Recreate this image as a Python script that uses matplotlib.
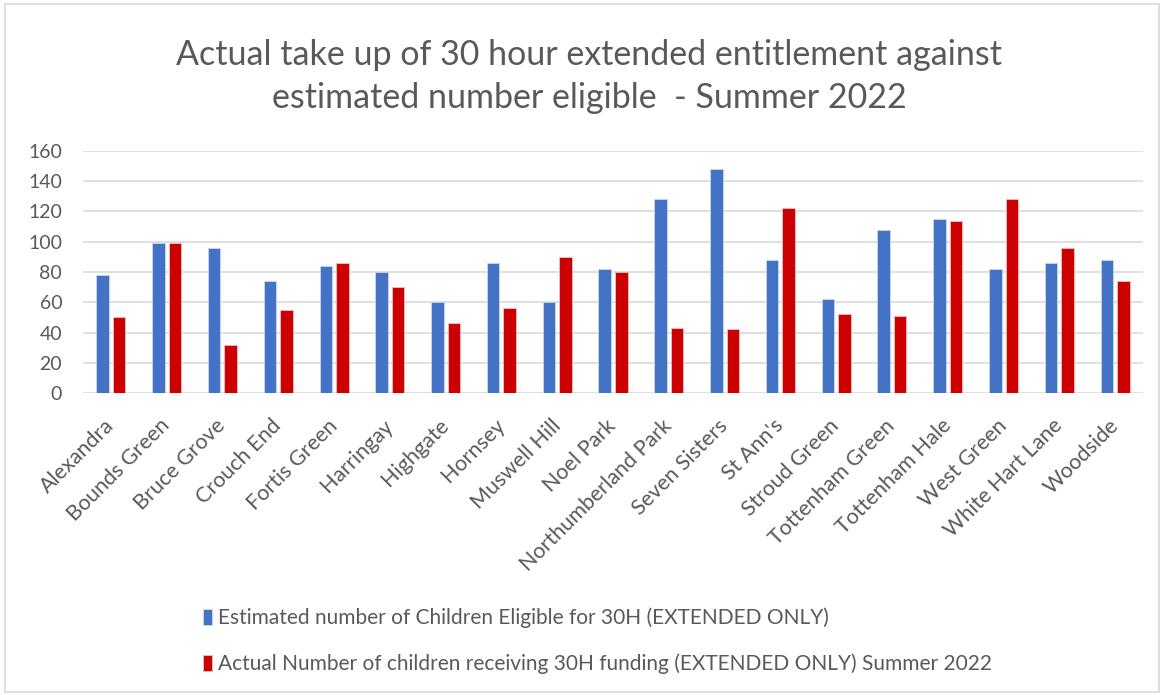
import numpy as np
import matplotlib.pyplot as plt
import matplotlib.transforms as mtransforms

wards = ["Alexandra", "Bounds Green", "Bruce Grove", "Crouch End", "Fortis Green",
         "Harringay", "Highgate", "Hornsey", "Muswell Hill", "Noel Park",
         "Northumberland Park", "Seven Sisters", "St Ann's", "Stroud Green",
         "Tottenham Green", "Tottenham Hale", "West Green", "White Hart Lane", "Woodside"]
eligible = [78, 99, 96, 74, 84, 80, 60, 86, 60, 82, 128, 148, 88, 62, 108, 115, 82, 86, 88]
actual = [50, 99, 32, 55, 86, 70, 46, 56, 90, 80, 43, 42, 122, 52, 51, 114, 128, 96, 74]

label_eligible = "Estimated number of Children Eligible for 30H (EXTENDED ONLY)"
label_actual = "Actual Number of children receiving 30H funding (EXTENDED ONLY) Summer 2022"
title = "Actual take up of 30 hour extended entitlement against\nestimated number eligible  - Summer 2022"

plt.rcParams['font.family'] = ['Lato', 'DejaVu Sans']
grey = "#595959"

fig = plt.figure(figsize=(11.64, 6.95), dpi=100)
ax = fig.add_axes([83 / 1164, 1 - 393 / 695, (1143 - 83) / 1164, (393 - 151) / 695])

x = np.arange(len(wards))
w = 0.225
off = 0.148
ax.bar(x - off, eligible, w, color="#4472C4", edgecolor="#c9d6ef", linewidth=0.6,
       label=label_eligible, zorder=3)
ax.bar(x + off, actual, w, color="#CC0000", edgecolor="#f0c0c0", linewidth=0.6,
       label=label_actual, zorder=3)

ax.set_xlim(-0.5, len(wards) - 0.5)
ax.set_ylim(0, 160)
ax.set_yticks(range(0, 161, 20))
ax.grid(axis="y", color="#d9d9d9", linewidth=1.2, zorder=0)
for s in ax.spines.values():
    s.set_visible(False)
ax.tick_params(axis="both", length=0, colors=grey, labelsize=14)
ax.tick_params(axis="y", pad=15)
ax.tick_params(axis="x", pad=14)
ax.set_xticks(x)
ax.set_xticklabels(wards, rotation=45, ha="right", rotation_mode="anchor", fontsize=15.5)
# nudge the rotated labels a little left, like the original
shift = mtransforms.ScaledTranslation(-7 / 100, -3 / 100, fig.dpi_scale_trans)
for lbl in ax.get_xticklabels():
    lbl.set_transform(lbl.get_transform() + shift)

fig.text(0.506, 0.89, title, ha="center", va="center", fontsize=24.5, color=grey,
         linespacing=1.45)

fig.legend(loc="upper left", bbox_to_anchor=(184 / 1164, 1 - 589 / 695), frameon=False,
           fontsize=15, labelcolor=grey, handlelength=0.45, handleheight=0.8,
           handletextpad=0.3, labelspacing=1.2)

fig.patches.append(plt.Rectangle((0.004, 0.004), 0.992, 0.99, transform=fig.transFigure,
                                 fill=False, edgecolor="#d9d9d9", linewidth=1.2))

fig.savefig("out.png", dpi=100)
